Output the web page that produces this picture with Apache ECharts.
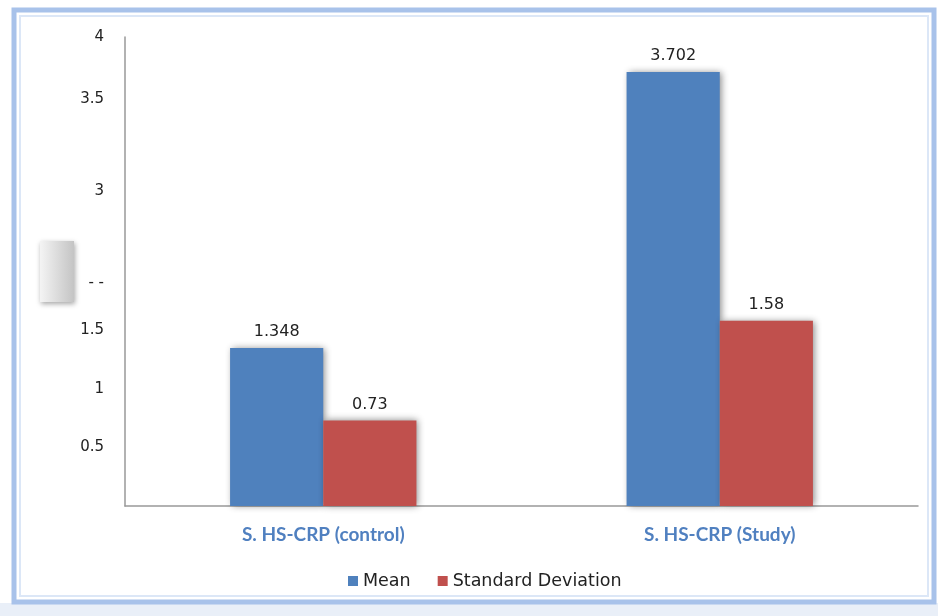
<!DOCTYPE html>
<html><head><meta charset="utf-8">
<script src="https://cdn.jsdelivr.net/npm/echarts@6/dist/echarts.min.js"></script>
<style>html,body{margin:0;padding:0;background:#fff}#c{width:938px;height:616px}</style>
</head><body><div id="c"></div>
<script>
const categories = ['S. HS-CRP (control)', 'S. HS-CRP (Study)'];
const meanValues = [1.348, 3.702];
const sdValues = [0.73, 1.58];
const seriesNames = ['Mean', 'Standard Deviation'];
const tickLabels = {0.5: '0.5', 1: '1', 1.5: '1.5', 2: '- -', 2.5: '', 3: '3', 3.5: '3.5', 4: '4'};

const chart = echarts.init(document.getElementById('c'), null, {renderer: 'canvas'});
const barShadow = {shadowBlur: 7, shadowColor: 'rgba(0,0,0,0.45)', shadowOffsetX: 2, shadowOffsetY: 0};
const yFont = {fontFamily: 'DejaVu Sans', fontSize: 15, color: '#222'};
chart.setOption({
  animation: false,
  backgroundColor: '#ffffff',
  graphic: [
    {type: 'rect', z: -11, shape: {x: 0, y: 603, width: 938, height: 13}, style: {fill: '#e9eff8'}},
    {type: 'rect', z: -10, shape: {x: 14, y: 10, width: 920, height: 592}, style: {fill: '#ffffff', stroke: '#a8c2ea', lineWidth: 5}},
    {type: 'rect', z: -9, shape: {x: 20, y: 16, width: 908, height: 580}, style: {fill: 'none', stroke: '#dce7f7', lineWidth: 2}},
    {type: 'rect', z: 5, shape: {x: 40, y: 241, width: 34, height: 61},
      style: {fill: new echarts.graphic.LinearGradient(0, 0, 1, 0, [{offset: 0, color: '#f4f4f4'}, {offset: 1, color: '#c4c4c4'}]),
        shadowBlur: 5, shadowColor: 'rgba(0,0,0,0.35)', shadowOffsetX: 1, shadowOffsetY: 2}}
  ],
  grid: {left: 125, right: 20, top: 37, bottom: 110},
  legend: {
    bottom: 21, left: 343, itemWidth: 10, itemHeight: 10, itemGap: 27,
    icon: 'rect',
    textStyle: {fontFamily: 'DejaVu Sans', fontSize: 17.5, color: '#222'},
    data: seriesNames
  },
  xAxis: {
    type: 'category', data: categories,
    axisLine: {lineStyle: {color: '#999', width: 1.5}},
    axisTick: {show: false},
    axisLabel: {margin: 19, fontFamily: 'Lato', fontWeight: 'bold', fontSize: 19, color: '#5080c0'}
  },
  yAxis: {
    type: 'value', min: 0, max: 4, interval: 0.5,
    axisLine: {show: true, lineStyle: {color: '#999', width: 1.5}},
    axisTick: {show: false},
    splitLine: {show: false},
    axisLabel: Object.assign({
      margin: 21,
      formatter: function (v) {
        const t = tickLabels[v];
        if (t === undefined) return '';
        if (v === 2) return '{d2|' + t + '}';
        if (v === 3) return '{d3|' + t + '}';
        if (v === 3.5) return '{d35|' + t + '}';
        return t;
      },
      rich: {
        d2: Object.assign({padding: [23, 0, 0, 0]}, yFont),
        d3: Object.assign({padding: [74, 0, 0, 0]}, yFont),
        d35: Object.assign({padding: [6, 0, 0, 0]}, yFont)
      }
    }, yFont)
  },
  series: [
    {name: seriesNames[0], type: 'bar', data: meanValues, barGap: '0%', barCategoryGap: '53%',
      itemStyle: Object.assign({color: '#4f81bd'}, barShadow),
      label: {show: true, position: 'top', distance: 8, fontFamily: 'DejaVu Sans', fontSize: 16, color: '#222'}},
    {name: seriesNames[1], type: 'bar', data: sdValues,
      itemStyle: Object.assign({color: '#c0504d'}, barShadow),
      label: {show: true, position: 'top', distance: 8, fontFamily: 'DejaVu Sans', fontSize: 16, color: '#222'}}
  ]
});
</script></body></html>
